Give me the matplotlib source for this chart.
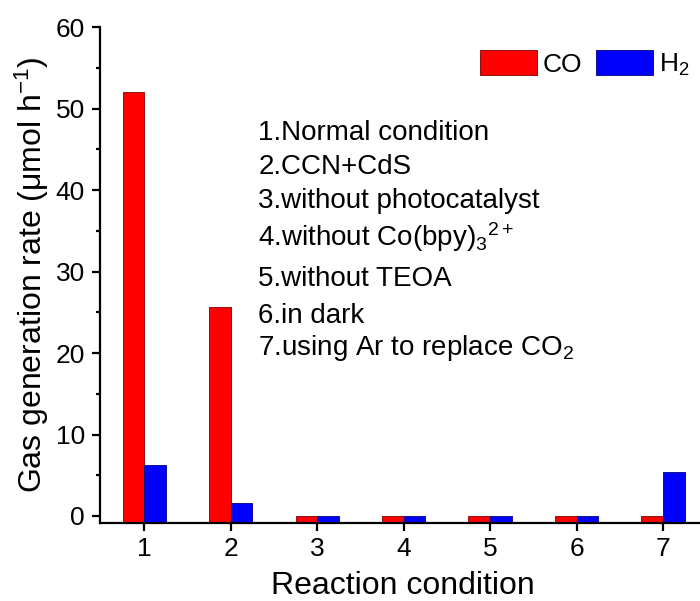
import numpy as np
import matplotlib

matplotlib.use("Agg")
import matplotlib.pyplot as plt

plt.rcParams["font.family"] = ["Liberation Sans", "DejaVu Sans"]
plt.rcParams["mathtext.fontset"] = "custom"
plt.rcParams["mathtext.rm"] = "Liberation Sans"
plt.rcParams["mathtext.it"] = "Liberation Sans:italic"
plt.rcParams["mathtext.default"] = "regular"

conditions = [1, 2, 3, 4, 5, 6, 7]
co_rate = [52.0, 25.7, 0, 0, 0, 0, 0]
h2_rate = [6.3, 1.6, 0, 0, 0, 0, 5.4]
condition_notes = [
    "1.Normal condition",
    "2.CCN+CdS",
    "3.without photocatalyst",
    "4.without Co(bpy)$_3$$^{2+}$",
    "5.without TEOA",
    "6.in dark",
    "7.using Ar to replace CO$_2$",
]

fig = plt.figure(figsize=(7.0, 6.01), dpi=100)
ax = fig.add_axes([0.143, 0.1298, 0.866, 0.825])

y_min = -0.86
x = np.array(conditions)
w = 0.25
ax.bar(x - w / 2, np.array(co_rate) - y_min, w, bottom=y_min,
       color="#ff0000", edgecolor="#800000", linewidth=0.6, label="CO")
ax.bar(x + w / 2, np.array(h2_rate) - y_min, w, bottom=y_min,
       color="#0000ff", edgecolor="#000080", linewidth=0.6, label="H$_2$")

ax.set_xlim(0.49, 7.5)
ax.set_ylim(y_min, 60)
ax.set_xticks(conditions)
ax.set_yticks([0, 10, 20, 30, 40, 50, 60])
ax.set_yticks(np.arange(5, 60, 10), minor=True)

for side in ["top", "right"]:
    ax.spines[side].set_visible(False)
for side in ["left", "bottom"]:
    ax.spines[side].set_linewidth(1.6)

ax.tick_params(axis="both", which="major", direction="out", length=6,
               width=1.6, labelsize=19)
ax.tick_params(axis="x", which="major", pad=4)
ax.tick_params(axis="y", which="major", pad=5)
ax.tick_params(axis="y", which="minor", direction="out", length=3, width=1.6)

ax.set_xlabel("Reaction condition", fontsize=23, labelpad=7)
ax.set_ylabel("Gas generation rate (\u03bcmol h$^{-1}$)", fontsize=23, labelpad=3)

# condition list, baselines in axes fraction
note_y = [0.772, 0.703, 0.636, 0.558, 0.478, 0.403, 0.338]
for txt, yy in zip(condition_notes, note_y):
    ax.text(0.261, yy, txt, transform=ax.transAxes, fontsize=20, va="baseline")

ax.legend(loc="upper right", bbox_to_anchor=(0.99, 0.975), ncol=2, frameon=False,
          fontsize=19, handlelength=2.15, handleheight=1.1, handletextpad=0.25,
          columnspacing=0.5, borderaxespad=0)

fig.savefig("out.png", dpi=100)
